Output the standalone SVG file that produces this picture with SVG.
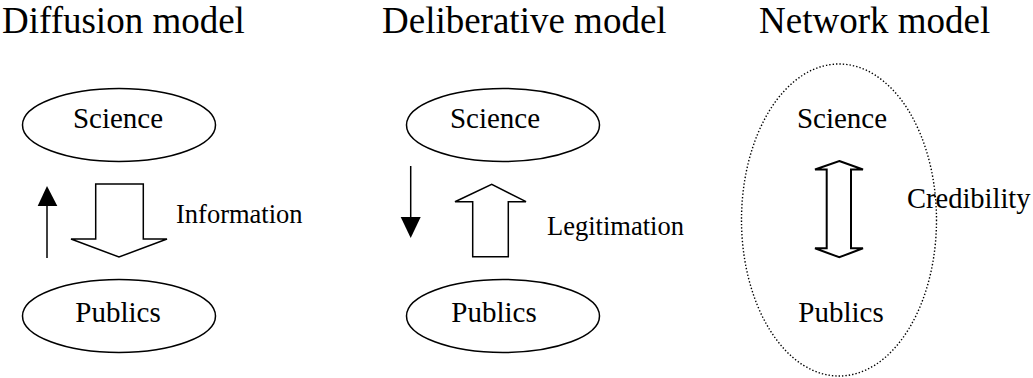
<svg xmlns="http://www.w3.org/2000/svg" width="1033" height="378" viewBox="0 0 1033 378">
<style>
.title{font-size:37px}
.node{font-size:29px;text-anchor:middle}
.lbl{font-size:26.5px}
.shape{fill:#fff;stroke:#000;stroke-width:1.5}
.big{fill:#fff;stroke:#000;stroke-width:1.5;stroke-linejoin:miter}
.thin{fill:none;stroke:#000;stroke-width:1.5}
.head{fill:#000;stroke:none}
.dot{fill:none;stroke:#000;stroke-width:1.4;stroke-dasharray:1.4 2}
</style>
<rect width="1033" height="378" fill="#fff"/>
<g font-family="'Liberation Serif', 'Times New Roman', Times, serif" fill="#000">
<g id="titles">
<text class="title" x="2" y="33">Diffusion model</text>
<text class="title" x="382" y="33">Deliberative model</text>
<text class="title" x="759" y="33">Network model</text>
</g>
<g id="diff-science">
<ellipse class="shape" cx="119" cy="125" rx="96.5" ry="36.5"/>
<text class="node" x="118" y="128">Science</text>
</g>
<g id="diff-publics">
<ellipse class="shape" cx="119" cy="316" rx="96.5" ry="36.5"/>
<text class="node" x="118" y="322">Publics</text>
</g>
<g id="delib-science">
<ellipse class="shape" cx="503" cy="125" rx="96.5" ry="36.5"/>
<text class="node" x="495" y="128">Science</text>
</g>
<g id="delib-publics">
<ellipse class="shape" cx="503" cy="316" rx="96.5" ry="36.5"/>
<text class="node" x="494" y="322">Publics</text>
</g>
<g id="network">
<ellipse class="dot" cx="839" cy="220" rx="97.5" ry="156"/>
<text class="node" x="842" y="128">Science</text>
<text class="node" x="841" y="322">Publics</text>
</g>
<g id="connectors">
<line class="thin" x1="47" y1="258" x2="47" y2="204"/>
<polygon class="head" points="47,186 57.3,206 37.7,206"/>
<polygon class="big" points="95.7,184 143.3,184 143.3,239 167,239 119,257 71,239 95.7,239"/>
<line class="thin" x1="410.7" y1="166" x2="410.7" y2="219"/>
<polygon class="head" points="410.7,238 420.7,217 400.7,217"/>
<polygon class="big" points="472.7,256.7 508.3,256.7 508.3,201.7 526,201.7 491.7,184.3 455,201.7 472.7,201.7"/>
<polygon class="big" style="stroke-width:2" points="839.3,161 863,169.5 851,169.5 851,248.3 863,248.3 839.3,257.3 815,248.3 826.7,248.3 826.7,169.5 815,169.5"/>
</g>
<g id="labels">
<text class="lbl" x="176" y="222.5">Information</text>
<text class="lbl" x="547" y="235">Legitimation</text>
<text class="lbl" x="907" y="207.5" style="font-size:28.5px">Credibility</text>
</g>
</g>
</svg>
